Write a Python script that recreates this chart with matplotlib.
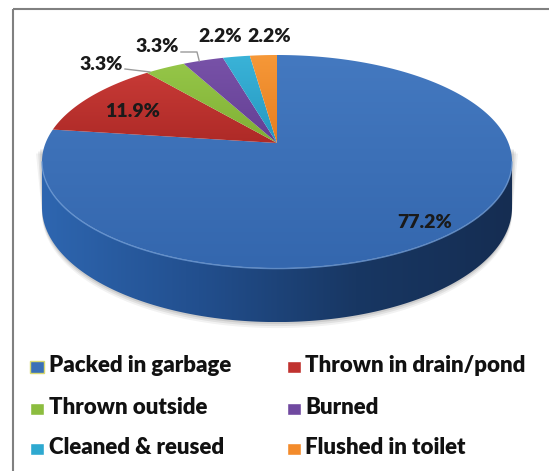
import numpy as np
import matplotlib
matplotlib.use("Agg")
import matplotlib.pyplot as plt
from matplotlib.patches import Polygon, Rectangle
from matplotlib.colors import LinearSegmentedColormap

# disposal practice shares (%)
categories = ["Packed in garbage", "Thrown in drain/pond", "Thrown outside",
              "Burned", "Cleaned & reused", "Flushed in toilet"]
shares = [77.2, 11.9, 3.3, 3.3, 2.2, 2.2]
slice_colors = ["#3A70B8", "#C0322F", "#8CBD3F", "#7049A0", "#2EA9D0", "#F38B2B"]

W, H = 549, 471
FONT = ["Lato", "DejaVu Sans"]

fig = plt.figure(figsize=(W / 100, H / 100), dpi=100)
ax = fig.add_axes([0, 0, 1, 1])
ax.set_xlim(0, W)
ax.set_ylim(H, 0)
ax.axis("off")

# --- perspective disc -------------------------------------------------------
CX, CY = 277, 143        # projected centre of the disc
K = 0.174                # perspective strength (back rim shrinks)
SY = 88 * (1 + K)
DEPTH = 54               # side height at the front rim, px


def project(u, v):
    w = 1 + K * v
    return u / w, v / w


_ph = np.linspace(0, 2 * np.pi, 3000)
SX = 235 / project(np.cos(_ph), np.sin(_ph))[0].max()


def to_px(phi_deg, r=1.0):
    p = np.radians(phi_deg)
    X, Y = project(r * np.cos(p), r * np.sin(p))
    return CX + SX * X, CY - SY * Y


def side_drop(phi_deg):
    return DEPTH * (1 - K) / (1 + K * np.sin(np.radians(phi_deg)))


def gradient_fill(poly_xy, colors, horizontal=True, zorder=1):
    poly = Polygon(poly_xy, closed=True, facecolor="none", edgecolor="none")
    ax.add_patch(poly)
    x0, y0 = poly_xy.min(axis=0)
    x1, y1 = poly_xy.max(axis=0)
    cmap = LinearSegmentedColormap.from_list("g", colors)
    grad = np.linspace(0, 1, 256)
    img = grad[None, :] if horizontal else grad[:, None]
    im = ax.imshow(img, cmap=cmap, extent=(x0, x1, y1, y0), aspect="auto",
                   zorder=zorder, interpolation="bilinear")
    im.set_clip_path(poly)


total = sum(shares)
edges = 90 - 360 * np.concatenate([[0], np.cumsum(shares)]) / total

# soft shadow under the disc
a_front = np.degrees(np.arcsin(K))
front = np.linspace(-180 + a_front, -a_front, 300)
for off, al in [(6, 0.05), (4, 0.07), (2, 0.09)]:
    fx, fy = to_px(front)
    fy = fy + side_drop(front) + off
    ax.fill(np.r_[fx[0] - off, fx, fx[-1] + off], np.r_[fy[0] - 60, fy, fy[-1] - 60],
            color="#000000", alpha=al, lw=0, zorder=0.5)

# side wall (only the front half is visible)
sx, sy = to_px(front)
sb = sy + side_drop(front)
side = np.column_stack([np.r_[sx, sx[::-1]], np.r_[sy, sb[::-1]]])
gradient_fill(side, ["#2E66B0", "#224F8E", "#183763", "#152D52"], zorder=1)

# top surface, slice by slice
shades = {"#3A70B8": ["#4479C0", "#3467AE"], "#C0322F": ["#C73A36", "#AE2A27"],
          "#8CBD3F": ["#95C648", "#80B035"], "#7049A0": ["#7852A8", "#643F94"],
          "#2EA9D0": ["#3AB3D8", "#2598C0"], "#F38B2B": ["#F69838", "#E67E20"]}
for i, col in enumerate(slice_colors):
    arc = np.linspace(edges[i], edges[i + 1], 400)
    axx, ayy = to_px(arc)
    xy = np.column_stack([np.r_[CX, axx], np.r_[CY, ayy]])
    gradient_fill(xy, shades[col], horizontal=False, zorder=2)

# light rim highlight along the front edge
hx, hy = to_px(front)
ax.plot(hx, hy + 0.5, color="#6E9BD6", lw=1.0, alpha=0.8, zorder=3)

# --- data labels -------------------------------------------------------------
lab_kw = dict(fontsize=14, fontweight="heavy", color="#1A1A1A", family=FONT,
              ha="center", va="center", zorder=5)
mid = (edges[:-1] + edges[1:]) / 2

# inside labels placed along the slice bisector
for i, r in [(0, 0.86), (1, 0.76)]:
    lx, ly = to_px(mid[i], r)
    ax.text(lx, ly + 4, f"{shares[i]:.1f}%", **lab_kw)

# outside labels for the thin slices
outside = {2: (101, 65), 3: (157, 47), 4: (220, 37), 5: (269, 37)}
for i, (lx, ly) in outside.items():
    ax.text(lx, ly, f"{shares[i]:.1f}%", **lab_kw)

# leader lines for the two 3.3% slices
gx, gy = to_px(edges[2] - 0.08 * (edges[2] - edges[3]))
ax.plot([125, gx], [69, gy], color="#9A9A9A", lw=1.0, zorder=4)
px_, py_ = to_px(edges[3] - 0.4 * (edges[3] - edges[4]))
ax.plot([181, 197, px_], [52, 52, py_], color="#9A9A9A", lw=1.0, zorder=4)

# --- legend ------------------------------------------------------------------
rows = [366, 408, 448]
cols = [(30, 49), (287, 305)]
for i, (name, col) in enumerate(zip(categories, slice_colors)):
    mx, tx = cols[i % 2]
    yy = rows[i // 2]
    ax.add_patch(Rectangle((mx, yy - 5), 14, 12, facecolor=col,
                           edgecolor="#D8D870" if i == 0 else "#FFFFFF",
                           lw=1.0, zorder=5))
    ax.text(tx, yy, name, fontsize=16, fontweight="heavy", color="#111111",
            family=FONT, ha="left", va="center", zorder=5)

# chart frame (runs off the right and bottom edges)
ax.add_patch(Rectangle((13, 9), 560, 500, facecolor="none",
                       edgecolor="#808080", lw=1.5, zorder=6))

fig.savefig("out.png", dpi=100)
